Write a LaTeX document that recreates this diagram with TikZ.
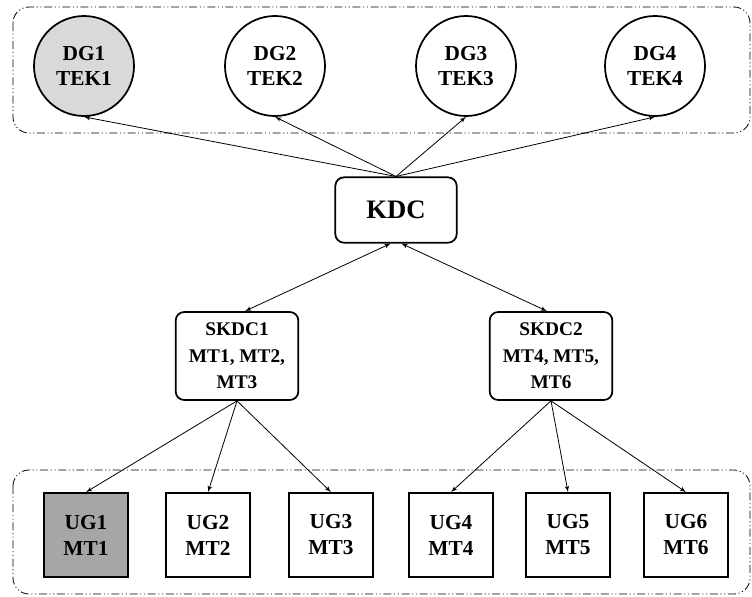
\documentclass[tikz,border=0pt]{standalone}
\usepackage{fontspec}
\setmainfont{Liberation Serif}
\usepackage{tikz}
\usetikzlibrary{positioning}
\usetikzlibrary{arrows}
\tikzstyle{line} = [draw, -latex']

\begin{document}
\begin{tikzpicture}[x=0.75pt, y=-0.75pt,
				group/.style={draw, line width=0.6pt, rounded corners=12pt, dash pattern=on 6pt off 2pt on 0.8pt off 2pt on 0.8pt off 2pt},
				member/.style={draw, circle, line width=1.3pt, minimum size=75pt, inner sep=0pt, font=\fontsize{16}{19}\selectfont\bfseries},
				user/.style={draw, rectangle, line width=1.3pt, minimum size=63pt, inner sep=0pt, font=\fontsize{16}{19.5}\selectfont\bfseries},
				server/.style={draw, rectangle, rounded corners=1.4ex, line width=1.3pt, inner sep=0pt},
				every text node part/.style={align=center}]
				\useasboundingbox (0,0) rectangle (752,596);
				% dashed groups
				\draw[group] (13,7) rectangle (750,133);
				\draw[group] (13,470) rectangle (750,594);
				
				\node[member, fill=black!15](dg1) at (84, 66) {DG1\\TEK1};
				\node[member](dg2) at (275, 66) {DG2\\TEK2};
				\node[member](dg3) at (466, 66) {DG3\\TEK3};
				\node[member](dg4) at (655, 66) {DG4\\TEK4};
				
				\node[server, minimum width=91pt, minimum height=49pt, font=\fontsize{20}{24}\selectfont\bfseries](kdc) at (396, 210) {KDC};
				
				\node[server, minimum width=92pt, minimum height=66pt, font=\fontsize{14.5}{20}\selectfont\bfseries](skdc1) at (237, 356) {SKDC1\\MT1, MT2,\\MT3};
				\node[server, minimum width=92pt, minimum height=66pt, font=\fontsize{14.5}{20}\selectfont\bfseries](skdc2) at (551, 356) {SKDC2\\MT4, MT5,\\MT6};
				
				\node[user, fill=black!35](ug1) at (86, 535) {UG1\\MT1};
				\node[user](ug2) at (208, 535) {UG2\\MT2};
				\node[user](ug3) at (331, 535) {UG3\\MT3};
				\node[user](ug4) at (451, 535) {UG4\\MT4};
				\node[user](ug5) at (568, 535) {UG5\\MT5};
				\node[user](ug6) at (686, 535) {UG6\\MT6};
				
				\foreach \i in {1,...,4}
					\path[line, line width=0.6pt] (kdc.north) -- (dg\i.south);
				\path[line, latex'-latex', line width=0.6pt] ([xshift=-4pt]kdc.south) -- ([xshift=6pt]skdc1.north);
				\path[line, latex'-latex', line width=0.6pt] ([xshift=4pt]kdc.south) -- ([xshift=-3pt]skdc2.north);
				\foreach \i in {1,2,3}
					\path[line, line width=0.6pt] (skdc1.south) -- (ug\i.north);
				\foreach \i in {4,5,6}
					\path[line, line width=0.6pt] (skdc2.south) -- (ug\i.north);
			\end{tikzpicture}
\end{document}
